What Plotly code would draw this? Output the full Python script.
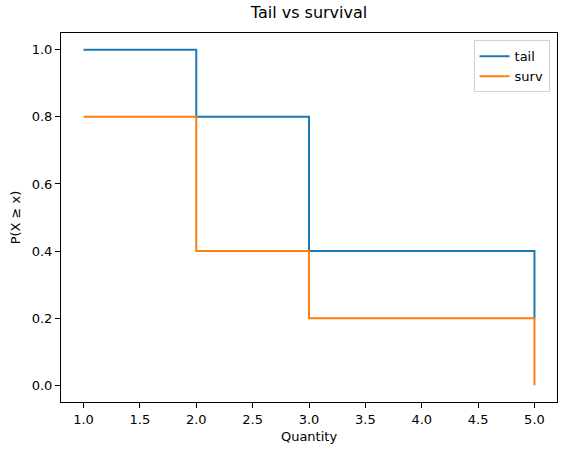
import plotly.graph_objects as go

x_vals = [1, 2, 3, 5]
tail_vals = [1.0, 0.8, 0.4, 0.2]
surv_vals = [0.8, 0.4, 0.2, 0.0]
x_ticks = [1.0, 1.5, 2.0, 2.5, 3.0, 3.5, 4.0, 4.5, 5.0]
y_ticks = [0.0, 0.2, 0.4, 0.6, 0.8, 1.0]

fig = go.Figure()
fig.add_trace(go.Scatter(x=x_vals, y=tail_vals, mode="lines", line_shape="hv",
                         name="tail", line=dict(color="#1f77b4", width=2)))
fig.add_trace(go.Scatter(x=x_vals, y=surv_vals, mode="lines", line_shape="hv",
                         name="surv", line=dict(color="#ff7f0e", width=2)))

axis_common = dict(showline=True, linecolor="black", linewidth=1, mirror=True,
                   ticks="outside", ticklen=5, tickwidth=1, tickcolor="black",
                   showgrid=False, zeroline=False,
                   tickfont=dict(family="DejaVu Sans", size=13, color="black"))
fig.update_xaxes(range=[0.8, 5.2], tickvals=x_ticks,
                 ticktext=[f"{v:.1f}" for v in x_ticks],
                 title=dict(text="Quantity", font=dict(family="DejaVu Sans", size=13, color="black"), standoff=6),
                 **axis_common)
fig.update_yaxes(range=[-0.05, 1.05], tickvals=y_ticks,
                 ticktext=[f"{v:.1f}" for v in y_ticks],
                 title=dict(text="P(X ≥ x)", font=dict(family="DejaVu Sans", size=13, color="black"), standoff=8),
                 **axis_common)

fig.update_layout(
    width=567, height=455,
    margin=dict(l=61, r=10, t=33, b=53),
    plot_bgcolor="white", paper_bgcolor="white",
    title=dict(text="Tail vs survival", x=0.545, xanchor="center", y=0.972, yanchor="middle",
               font=dict(family="DejaVu Sans", size=16, color="black")),
    legend=dict(x=0.985, y=0.98, xanchor="right", yanchor="top",
                bordercolor="#d0d0d0", borderwidth=1, bgcolor="rgba(255,255,255,0.8)",
                font=dict(family="DejaVu Sans", size=13, color="black"),
                itemwidth=30),
    showlegend=True,
)

fig.write_html("out.html")
